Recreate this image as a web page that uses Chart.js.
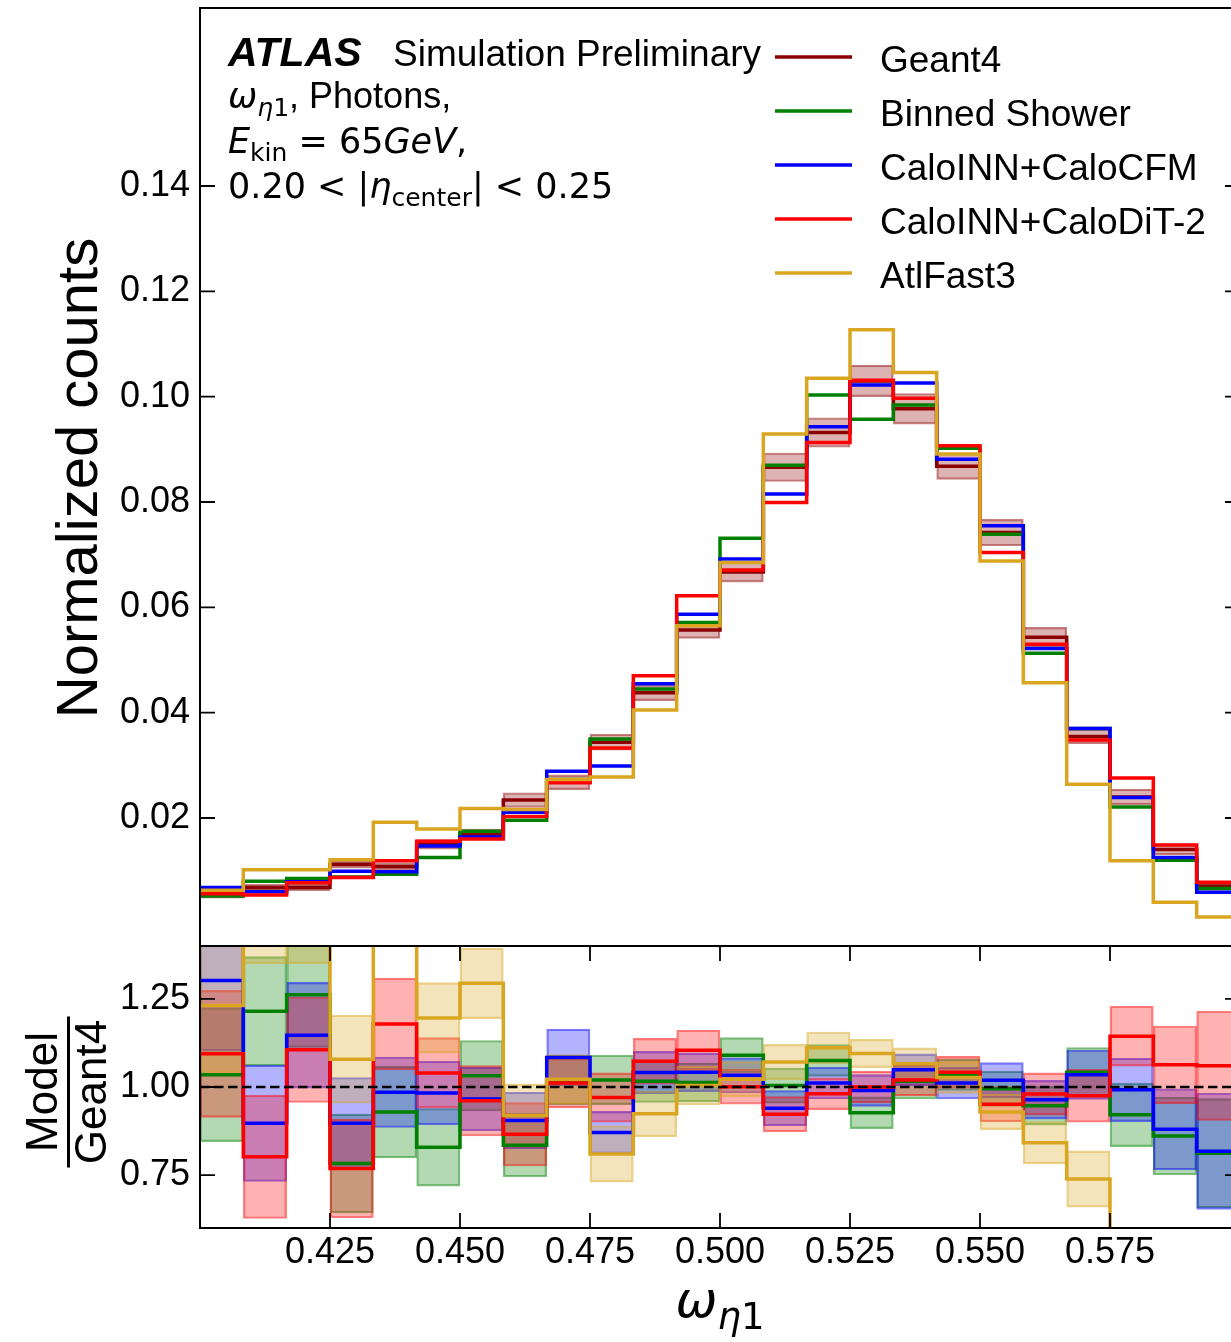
<!DOCTYPE html>
<html>
<head>
<meta charset="utf-8">
<title>omega eta1 - photons 65 GeV</title>
<script src="https://cdn.jsdelivr.net/npm/chart.js@4.4.0/dist/chart.umd.min.js"></script>
<style>
  html, body { margin: 0; padding: 0; background: #fff; overflow: hidden; }
  #wrap { position: relative; width: 1231px; height: 1342px; overflow: hidden; background: #fff; }
  canvas { position: absolute; left: 0; }
  #mainChart { top: 0; }
  #ratioChart { top: 940px; }
</style>
</head>
<body>
<div id="wrap">
  <canvas id="mainChart" width="1250" height="950"></canvas>
  <canvas id="ratioChart" width="1250" height="402"></canvas>
</div>
<script>
// bin edges of omega_eta1 (24 bins)
const binEdges = [0.40000, 0.40833, 0.41667, 0.42500, 0.43333, 0.44167, 0.45000, 0.45833,
                  0.46667, 0.47500, 0.48333, 0.49167, 0.50000, 0.50833, 0.51667, 0.52500,
                  0.53333, 0.54167, 0.55000, 0.55833, 0.56667, 0.57500, 0.58333, 0.59167, 0.60000];

// normalized counts per bin
const geant4    = [0.0053, 0.0068, 0.0068, 0.0112, 0.0108, 0.0150, 0.0169, 0.0234, 0.0268, 0.0344, 0.0438, 0.0557,
                   0.0667, 0.0866, 0.0932, 0.1030, 0.0977, 0.0868, 0.0742, 0.0543, 0.0355, 0.0240, 0.0140, 0.0071];
const geant4Err = [0.0005, 0.0006, 0.0006, 0.0007, 0.0007, 0.0009, 0.0010, 0.0014, 0.0014, 0.0015, 0.0015, 0.0016,
                   0.0019, 0.0027, 0.0028, 0.0030, 0.0029, 0.0025, 0.0025, 0.0019, 0.0014, 0.0015, 0.0010, 0.0008];
const binned    = [0.0052, 0.0080, 0.0085, 0.0088, 0.0093, 0.0125, 0.0175, 0.0196, 0.0273, 0.0350, 0.0445, 0.0571,
                   0.0731, 0.0870, 0.1003, 0.0957, 0.0984, 0.0902, 0.0739, 0.0513, 0.0370, 0.0221, 0.0120, 0.0066];
const caloCFM   = [0.0068, 0.0060, 0.0079, 0.0099, 0.0098, 0.0147, 0.0164, 0.0211, 0.0289, 0.0299, 0.0455, 0.0587,
                   0.0692, 0.0815, 0.0943, 0.1022, 0.1026, 0.0881, 0.0755, 0.0522, 0.0370, 0.0239, 0.0125, 0.0059];
const caloDiT   = [0.0056, 0.0054, 0.0077, 0.0087, 0.0119, 0.0156, 0.0160, 0.0203, 0.0267, 0.0333, 0.0470, 0.0622,
                   0.0671, 0.0799, 0.0913, 0.1031, 0.0997, 0.0907, 0.0704, 0.0530, 0.0348, 0.0276, 0.0149, 0.0078];
const atlFast3  = [0.0063, 0.0102, 0.0102, 0.0121, 0.0192, 0.0179, 0.0218, 0.0216, 0.0273, 0.0278, 0.0405, 0.0565,
                   0.0685, 0.0929, 0.1035, 0.1127, 0.1046, 0.0891, 0.0688, 0.0457, 0.0264, 0.0119, 0.0040, 0.0012];

// model / Geant4 ratios and their uncertainties
const ratioBinned    = [1.035, 1.215, 1.262, 0.783, 0.929, 0.829, 1.032, 0.835, 1.020, 1.020, 1.016, 1.013,
                        1.090, 1.004, 1.075, 0.927, 1.016, 1.035, 0.995, 0.947, 1.042, 0.921, 0.861, 0.812];
const ratioBinnedErr = [0.19, 0.155, 0.15, 0.14, 0.13, 0.11, 0.10, 0.09, 0.07, 0.07, 0.06, 0.055,
                        0.05, 0.05, 0.045, 0.045, 0.05, 0.045, 0.05, 0.055, 0.07, 0.09, 0.11, 0.155];
const ratioCFM       = [1.302, 0.897, 1.147, 0.897, 0.985, 0.983, 0.966, 0.905, 1.084, 0.871, 1.041, 1.042,
                        1.033, 0.940, 1.011, 0.990, 1.049, 1.011, 1.019, 0.964, 1.035, 0.992, 0.880, 0.818];
const ratioCFMErr    = [0.20, 0.165, 0.15, 0.13, 0.10, 0.09, 0.09, 0.08, 0.08, 0.06, 0.06, 0.055,
                        0.05, 0.05, 0.045, 0.045, 0.045, 0.045, 0.05, 0.055, 0.07, 0.09, 0.115, 0.165];
const ratioDiT       = [1.094, 0.802, 1.106, 0.769, 1.179, 1.040, 0.961, 0.866, 1.011, 0.970, 1.073, 1.104,
                        1.001, 0.923, 0.981, 1.000, 1.020, 1.042, 0.951, 0.980, 0.975, 1.144, 1.063, 1.060];
const ratioDiTErr    = [0.18, 0.175, 0.15, 0.14, 0.13, 0.10, 0.10, 0.09, 0.07, 0.07, 0.065, 0.057,
                        0.05, 0.05, 0.045, 0.045, 0.045, 0.045, 0.05, 0.06, 0.075, 0.085, 0.11, 0.155];
const ratioAF3       = [1.231, 1.500, 1.500, 1.079, 1.760, 1.196, 1.294, 0.919, 1.022, 0.810, 0.924, 1.004,
                        1.022, 1.071, 1.111, 1.095, 1.066, 1.027, 0.929, 0.842, 0.739, 0.500, 0.290, 0.170];
const ratioAF3Err    = [0.19, 0.15, 0.15, 0.125, 0.15, 0.10, 0.10, 0.09, 0.07, 0.08, 0.065, 0.055,
                        0.05, 0.05, 0.045, 0.04, 0.045, 0.045, 0.05, 0.06, 0.08, 0.07, 0.05, 0.04];

const yTicksMain  = [0.02, 0.04, 0.06, 0.08, 0.10, 0.12, 0.14];
const yTicksRatio = [0.75, 1.00, 1.25];
const xTicks      = [0.425, 0.450, 0.475, 0.500, 0.525, 0.550, 0.575];

const legendLabels = ['Geant4', 'Binned Shower', 'CaloINN+CaloCFM', 'CaloINN+CaloDiT-2', 'AtlFast3'];
const legendColors = ['#8b0000', '#008000', '#0000ff', '#ff0000', '#daa520'];

const SANS = "'Liberation Sans', Arial, sans-serif";
const MATH = "'DejaVu Sans', sans-serif";

function rgba(hex, a) {
  const n = parseInt(hex.slice(1), 16);
  return `rgba(${(n >> 16) & 255}, ${(n >> 8) & 255}, ${n & 255}, ${a})`;
}

// histogram as a stepped line: one point per left edge, plus the last right edge
function stepPoints(values) {
  const pts = values.map((v, i) => ({ x: binEdges[i], y: v }));
  pts.push({ x: binEdges[values.length], y: values[values.length - 1] });
  return pts;
}

// uncertainty boxes as floating bars
function bandBoxes(values, errs) {
  return values.map((v, i) => ({ x: (binEdges[i] + binEdges[i + 1]) / 2, y: [v - errs[i], v + errs[i]] }));
}

function stepLine(label, values, color, order) {
  return {
    type: 'line', label, data: stepPoints(values), borderColor: color, borderWidth: 3.5,
    stepped: 'before', pointRadius: 0, fill: false, tension: 0, order
  };
}

function band(label, values, errs, color, order) {
  return {
    type: 'bar', label, data: bandBoxes(values, errs),
    backgroundColor: rgba(color, 0.3), borderColor: rgba(color, 0.5), borderWidth: 1.5,
    borderSkipped: false, grouped: false, barPercentage: 1, categoryPercentage: 1, order
  };
}

function drawRuns(ctx, x, y, runs) {
  runs.forEach(r => {
    ctx.font = r.font;
    ctx.fillText(r.t, x, y + (r.dy || 0));
    x += ctx.measureText(r.t).width;
  });
  return x;
}

function runsWidth(ctx, runs) {
  let w = 0;
  runs.forEach(r => { ctx.font = r.font; w += ctx.measureText(r.t).width; });
  return w;
}

function drawFrame(chart, yVals, xVals) {
  const { ctx, chartArea: a, scales: { x, y } } = chart;
  ctx.save();
  ctx.strokeStyle = '#000';
  ctx.lineWidth = 2;
  ctx.strokeRect(a.left, a.top, a.right - a.left, a.bottom - a.top);
  ctx.lineWidth = 1.8;
  ctx.beginPath();
  yVals.forEach(v => {
    const py = y.getPixelForValue(v);
    ctx.moveTo(a.left, py); ctx.lineTo(a.left + 15, py);
    ctx.moveTo(a.right, py); ctx.lineTo(a.right - 15, py);
  });
  xVals.forEach(v => {
    const px = x.getPixelForValue(v);
    ctx.moveTo(px, a.bottom); ctx.lineTo(px, a.bottom - 15);
    ctx.moveTo(px, a.top); ctx.lineTo(px, a.top + 15);
  });
  ctx.stroke();
  ctx.restore();
}

const mainDecor = {
  id: 'mainDecor',
  afterDraw(chart) {
    const { ctx } = chart;
    drawFrame(chart, yTicksMain, []);
    ctx.save();
    ctx.fillStyle = '#000';
    ctx.textBaseline = 'alphabetic';
    ctx.textAlign = 'left';

    // ATLAS label block
    ctx.font = `bold italic 41px ${SANS}`;
    ctx.fillText('ATLAS', 228, 66);
    ctx.font = `37px ${SANS}`;
    ctx.fillText('Simulation Preliminary', 393, 66);
    drawRuns(ctx, 228, 108, [
      { t: 'ω', font: `italic 35px ${MATH}` },
      { t: 'η', font: `italic 25px ${MATH}`, dy: 8 },
      { t: '1', font: `25px ${MATH}`, dy: 8 },
      { t: ', Photons,', font: `36px ${SANS}` }
    ]);
    drawRuns(ctx, 228, 153, [
      { t: 'E', font: `italic 35px ${MATH}` },
      { t: 'kin', font: `25px ${MATH}`, dy: 8 },
      { t: ' = 65', font: `35px ${MATH}` },
      { t: 'GeV', font: `italic 35px ${MATH}` },
      { t: ',', font: `35px ${MATH}` }
    ]);
    drawRuns(ctx, 228, 198, [
      { t: '0.20 < |', font: `35px ${MATH}` },
      { t: 'η', font: `italic 35px ${MATH}` },
      { t: 'center', font: `25px ${MATH}`, dy: 8 },
      { t: '| < 0.25', font: `35px ${MATH}` }
    ]);

    // legend
    ctx.textBaseline = 'alphabetic';
    ctx.font = `37px ${SANS}`;
    legendLabels.forEach((lab, i) => {
      const ly = 57 + 54 * i;
      ctx.strokeStyle = legendColors[i];
      ctx.lineWidth = 3.5;
      ctx.beginPath();
      ctx.moveTo(775, ly); ctx.lineTo(852, ly);
      ctx.stroke();
      ctx.fillText(lab, 880, ly + 15);
    });

    // y title
    ctx.translate(97, 478);
    ctx.rotate(-Math.PI / 2);
    ctx.textAlign = 'center';
    ctx.textBaseline = 'alphabetic';
    ctx.font = `58px ${SANS}`;
    ctx.fillText('Normalized counts', 0, 0);
    ctx.restore();
  }
};

const ratioDecor = {
  id: 'ratioDecor',
  afterDraw(chart) {
    const { ctx } = chart;
    drawFrame(chart, yTicksRatio, xTicks);
    ctx.save();
    ctx.fillStyle = '#000';

    // Model / Geant4 fraction label
    ctx.save();
    ctx.translate(0, 152);
    ctx.rotate(-Math.PI / 2);
    ctx.textAlign = 'center';
    ctx.font = `44px ${SANS}`;
    ctx.fillText('Model', 0, 57);
    ctx.fillText('Geant4', 0, 106);
    ctx.fillRect(-75.5, 67, 151, 3);
    ctx.restore();

    // x title
    const runs = [
      { t: 'ω', font: `italic 50px ${MATH}` },
      { t: 'η', font: `italic 37px ${MATH}`, dy: 12 },
      { t: '1', font: `37px ${MATH}`, dy: 12 }
    ];
    const a = chart.chartArea;
    const w = runsWidth(ctx, runs);
    ctx.textAlign = 'left';
    ctx.textBaseline = 'alphabetic';
    drawRuns(ctx, (a.left + a.right) / 2 - w / 2, 377, runs);
    ctx.restore();
  }
};

const tickFont = { family: SANS, size: 36 };

new Chart(document.getElementById('mainChart'), {
  type: 'line',
  data: {
    datasets: [
      band('Geant4 unc.', geant4, geant4Err, '#8b0000', 10),
      stepLine('Geant4', geant4, '#8b0000', 5),
      stepLine('Binned Shower', binned, '#008000', 4),
      stepLine('CaloINN+CaloCFM', caloCFM, '#0000ff', 3),
      stepLine('CaloINN+CaloDiT-2', caloDiT, '#ff0000', 2),
      stepLine('AtlFast3', atlFast3, '#daa520', 1)
    ]
  },
  options: {
    responsive: false,
    animation: false,
    layout: { padding: { left: 0, right: 10, top: 8, bottom: 4 } },
    plugins: { legend: { display: false }, tooltip: { enabled: false } },
    scales: {
      x: { type: 'linear', min: 0.4, max: 0.6, offset: false, display: false },
      y: {
        type: 'linear', min: -0.0043, max: 0.1738,
        grid: { display: false, drawTicks: false }, border: { display: false },
        afterBuildTicks: s => { s.ticks = yTicksMain.map(v => ({ value: v })); },
        afterFit: s => { s.width = 200; s.paddingTop = 0; s.paddingBottom = 0; },
        ticks: { padding: 10, autoSkip: false, color: '#000', font: tickFont, callback: v => v.toFixed(2) }
      }
    }
  },
  plugins: [mainDecor]
});

new Chart(document.getElementById('ratioChart'), {
  type: 'line',
  data: {
    datasets: [
      band('Binned Shower unc.', ratioBinned, ratioBinnedErr, '#008000', 13),
      band('CaloINN+CaloCFM unc.', ratioCFM, ratioCFMErr, '#0000ff', 12),
      band('CaloINN+CaloDiT-2 unc.', ratioDiT, ratioDiTErr, '#ff0000', 11),
      band('AtlFast3 unc.', ratioAF3, ratioAF3Err, '#daa520', 10),
      stepLine('Binned Shower', ratioBinned, '#008000', 4),
      stepLine('CaloINN+CaloCFM', ratioCFM, '#0000ff', 3),
      stepLine('CaloINN+CaloDiT-2', ratioDiT, '#ff0000', 2),
      stepLine('AtlFast3', ratioAF3, '#daa520', 1),
      {
        type: 'line', label: 'unity', order: 0,
        data: [{ x: binEdges[0], y: 1 }, { x: binEdges[binEdges.length - 1], y: 1 }],
        borderColor: '#000', borderWidth: 2.5, borderDash: [9.5, 4.5], pointRadius: 0, fill: false
      }
    ]
  },
  options: {
    responsive: false,
    animation: false,
    layout: { padding: { left: 0, right: 10, top: 6, bottom: 0 } },
    plugins: { legend: { display: false }, tooltip: { enabled: false } },
    scales: {
      x: {
        type: 'linear', min: 0.4, max: 0.6, offset: false, position: 'bottom',
        grid: { display: false, drawTicks: false }, border: { display: false },
        afterBuildTicks: s => { s.ticks = xTicks.map(v => ({ value: v })); },
        afterFit: s => { s.height = 114; s.paddingLeft = 0; s.paddingRight = 0; },
        ticks: { padding: 3, maxRotation: 0, autoSkip: false, color: '#000', font: tickFont, callback: v => v.toFixed(3) }
      },
      y: {
        type: 'linear', min: 0.6, max: 1.4,
        grid: { display: false, drawTicks: false }, border: { display: false },
        afterBuildTicks: s => { s.ticks = yTicksRatio.map(v => ({ value: v })); },
        afterFit: s => { s.width = 200; s.paddingTop = 0; s.paddingBottom = 0; },
        ticks: { padding: 10, autoSkip: false, color: '#000', font: tickFont, callback: v => v.toFixed(2) }
      }
    }
  },
  plugins: [ratioDecor]
});
</script>
</body>
</html>
